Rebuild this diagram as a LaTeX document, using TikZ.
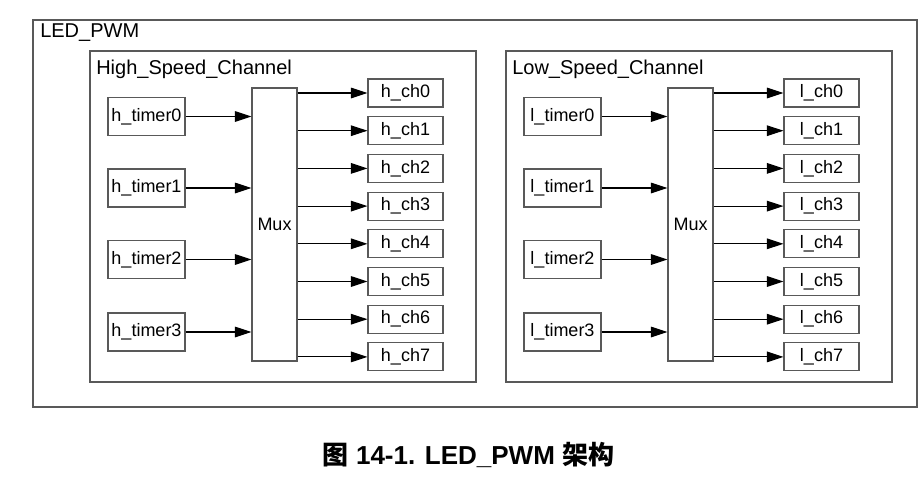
\documentclass[tikz,border=0pt]{standalone}
\usepackage{fontspec}
\setmainfont{Liberation Sans}
\newfontfamily\cjk{Noto Sans CJK SC}
\usetikzlibrary{arrows.meta}
\definecolor{edgegray}{gray}{0.35}
\tikzset{
  blk/.style={draw=edgegray, line width=0.8pt, inner sep=0pt,
    font=\fontsize{13.5}{16}\selectfont},
  timerbox/.style={blk, minimum width=57.75pt, minimum height=28.5pt},
  chbox/.style={blk, minimum width=56.25pt, minimum height=21pt},
  muxbox/.style={blk, minimum width=33.75pt, minimum height=204.75pt},
  title/.style={anchor=west, inner sep=0pt, font=\fontsize{15}{18}\selectfont},
  frame/.style={draw=edgegray, line width=0.8pt},
  sig/.style={-{Triangle[length=12.5pt,width=8pt]}, line width=0.8pt},
}

\begin{document}
\begin{tikzpicture}[x=0.75pt,y=-0.75pt]
  % canvas in pixels of the reference (923x482)
  \useasboundingbox (0,0) rectangle (923,482);

  % outer block
  \draw[frame] (33,20) rectangle (917,407);
  \node[title] (ledpwm) at (40,33) {LED\_PWM};

  % two channel groups, the low one shifted 416px right
  \foreach \g/\p/\dx/\name in {hs/h/0/High, ls/l/416/Low} {
    \draw[frame] (90+\dx,51) rectangle (476+\dx,382);
    \node[title] (\g title) at (96+\dx,69) {\name\_Speed\_Channel};
    \node[muxbox] (\p mux) at (274.5+\dx,224.5) {Mux};
    % timers -> mux
    \foreach \i/\y in {0/116.5, 1/188, 2/259.5, 3/332} {
      \node[timerbox] (\p timer\i) at (146.5+\dx,\y) {\p\_timer\i};
      \draw[sig] (\p timer\i) -- (\p mux.west |- \p timer\i);
    }
    % mux -> channels
    \foreach \i in {0,...,7} {
      \node[chbox] (\p ch\i) at (405.5+\dx,93+37.7*\i) {\p\_ch\i};
      \draw[sig] (\p mux.east |- \p ch\i) -- (\p ch\i);
    }
  }

  % caption
  \node[font=\fontsize{19.5}{22}\selectfont\bfseries] (caption) at (468.5,455)
    {{\cjk\bfseries 图} 14-1. LED\_PWM {\cjk\bfseries 架构}};
\end{tikzpicture}
\end{document}
